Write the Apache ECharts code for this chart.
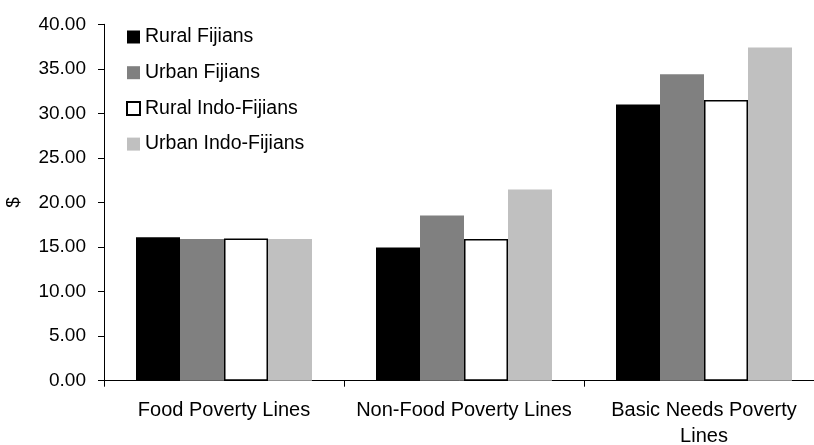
<!DOCTYPE html>
<html>
<head>
<meta charset="utf-8">
<script src="https://cdn.jsdelivr.net/npm/echarts@6/dist/echarts.min.js"></script>
<style>
  html, body { margin: 0; padding: 0; background: #fff; }
  #chart { width: 814px; height: 445px; }
</style>
</head>
<body>
<div id="chart"></div>
<script>
var categories = ['Food Poverty Lines', 'Non-Food Poverty Lines', 'Basic Needs Poverty\nLines'];
var ruralFijians = [16.1, 14.95, 31.0];
var urbanFijians = [15.9, 18.55, 34.4];
var ruralIndoFijians = [15.95, 15.9, 31.5];
var urbanIndoFijians = [15.9, 21.45, 37.4];

var font = 'Liberation Sans, Arial, sans-serif';

function bar(name, data, color, border) {
  return {
    name: name,
    type: 'bar',
    data: data,
    barWidth: 44,
    barGap: '0%',
    itemStyle: {
      color: color,
      borderColor: border || color,
      borderWidth: border ? 1.5 : 0
    }
  };
}

var chart = echarts.init(document.getElementById('chart'));
chart.setOption({
  animation: false,
  backgroundColor: '#fff',
  textStyle: { fontFamily: font, color: '#000' },
  grid: {
    left: 104, top: 24.3, bottom: 64.3, width: 720,
    containLabel: false, outerBoundsMode: 'none'
  },
  legend: {
    orient: 'vertical',
    left: 121,
    top: 22,
    icon: 'rect',
    itemWidth: 13,
    itemHeight: 13,
    itemGap: 15.7,
    textStyle: { fontFamily: font, fontSize: 19.5, color: '#000', lineHeight: 20 }
  },
  xAxis: {
    type: 'category',
    data: categories,
    axisLine: { lineStyle: { color: '#000', width: 1 } },
    axisTick: { show: true, length: 6, lineStyle: { color: '#000' } },
    axisLabel: { fontFamily: font, fontSize: 20, color: '#000', margin: 17, lineHeight: 26, interval: 0 }
  },
  yAxis: {
    type: 'value',
    min: 0,
    max: 40,
    interval: 5,
    name: '$',
    nameLocation: 'middle',
    nameGap: 81,
    nameRotate: 90,
    nameTextStyle: { fontFamily: font, fontSize: 19, color: '#000' },
    splitLine: { show: false },
    axisLine: { show: true, lineStyle: { color: '#000', width: 1 } },
    axisTick: { show: true, length: 6, lineStyle: { color: '#000' } },
    axisLabel: {
      fontFamily: font, fontSize: 19, color: '#000', margin: 18,
      formatter: function (v) { return v.toFixed(2); }
    }
  },
  series: [
    bar('Rural Fijians', ruralFijians, '#000000'),
    bar('Urban Fijians', urbanFijians, '#808080'),
    bar('Rural Indo-Fijians', ruralIndoFijians, '#ffffff', '#000000'),
    bar('Urban Indo-Fijians', urbanIndoFijians, '#c0c0c0')
  ]
});
</script>
</body>
</html>
